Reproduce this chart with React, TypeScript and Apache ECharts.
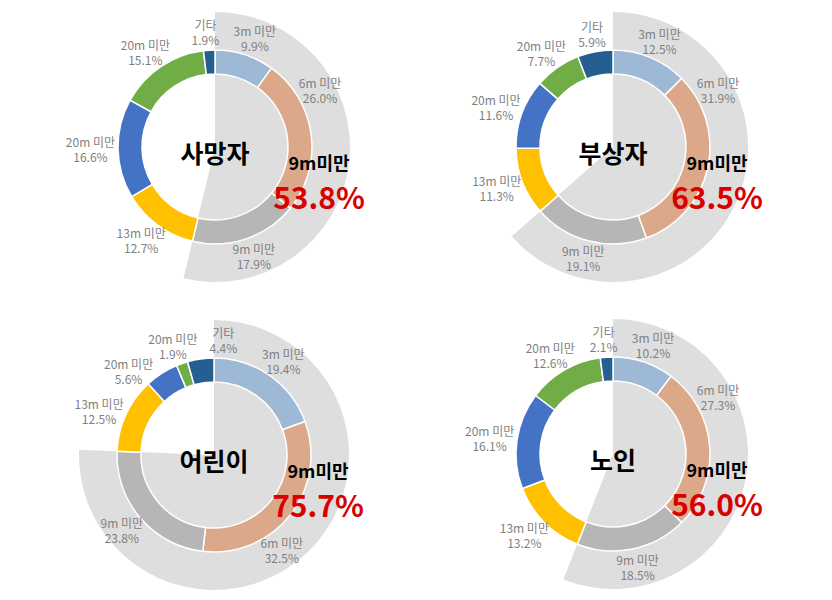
import React, { useEffect, useRef } from "react";
import * as echarts from "echarts";

const categories = ["3m 미만", "6m 미만", "9m 미만", "13m 미만", "20m 미만", "20m 미만", "기타"];
const groups = ["사망자", "부상자", "어린이", "노인"];
const deaths = [9.9, 26.0, 17.9, 12.7, 16.6, 15.1, 1.9];
const injured = [12.5, 31.9, 19.1, 11.3, 11.6, 7.7, 5.9];
const children = [19.4, 32.5, 23.8, 12.5, 5.6, 1.9, 4.4];
const elderly = [10.2, 27.3, 18.5, 13.2, 16.1, 12.6, 2.1];
const highlightLabel = "9m미만";
const highlightCount = 3; // first three categories are under 9m

const seriesValues = [deaths, injured, children, elderly];

const colors = ["#9DB9D5", "#DBA98A", "#B6B6B6", "#FFC000", "#4472C4", "#70AD47", "#255E91"];
const centers: [number, number][] = [
  [215, 147],
  [613, 147],
  [214, 455],
  [613, 454],
];
const OUTER_GREY = 135;
const RING_IN = 73;
const RING_OUT = 97;
const FONT = '"Noto Sans CJK KR", "Noto Sans", sans-serif';

function labelAngles(values: number[]): number[] {
  const total = values.reduce((a, b) => a + b, 0);
  let cum = 0;
  const a = values.map((v) => {
    const mid = ((cum + v / 2) / total) * 360;
    cum += v;
    return mid;
  });
  // keep labels out of the highlighted-text zone on the right
  const z0 = 60,
    z1 = 146;
  for (let i = 0; i < a.length; i++) {
    if (a[i] > z0 && a[i] < z1) a[i] = a[i] - z0 < z1 - a[i] ? z0 : z1;
  }
  const minSep = 24;
  for (let it = 0; it < 30; it++) {
    for (let i = 0; i < a.length; i++) {
      const j = (i + 1) % a.length;
      let diff = a[j] - a[i];
      if (j === 0) diff += 360;
      if (diff < minSep) {
        const d = (minSep - diff) / 2;
        a[i] -= d;
        a[j] += d;
      }
    }
  }
  return a;
}

export default function App() {
  const ref = useRef<HTMLDivElement>(null);
  useEffect(() => {
    document.body.style.margin = "0";
    const chart = echarts.init(ref.current!, null, { renderer: "svg" });
    const series: any[] = [];
    const graphic: any[] = [];
    seriesValues.forEach((vals, gi) => {
      const [cx, cy] = centers[gi];
      const under = vals.slice(0, highlightCount).reduce((a, b) => a + b, 0);
      const total = vals.reduce((a, b) => a + b, 0);
      series.push({
        type: "pie",
        silent: true,
        center: [cx, cy],
        radius: [0, OUTER_GREY],
        startAngle: 90,
        clockwise: true,
        z: 1,
        label: { show: false },
        labelLine: { show: false },
        emphasis: { disabled: true },
        data: [
          { name: "under", value: under, itemStyle: { color: "#DEDEDE" } },
          { name: "rest", value: Math.max(total - under, 0), itemStyle: { color: "rgba(0,0,0,0)" } },
        ],
      });
      const angles = labelAngles(vals);
      series.push({
        type: "pie",
        silent: true,
        center: [cx, cy],
        radius: [RING_IN, RING_OUT],
        startAngle: 90,
        clockwise: true,
        avoidLabelOverlap: false,
        z: 2,
        emphasis: { disabled: true },
        itemStyle: { borderColor: "#ffffff", borderWidth: 1.5 },
        label: {
          show: true,
          position: "outside",
          formatter: (p: any) => `${p.name}\n${Number(p.value).toFixed(1)}%`,
          color: "#7F7F7F",
          fontSize: 12,
          lineHeight: 15,
          fontFamily: FONT,
          align: "center",
        },
        labelLine: { show: false },
        labelLayout: (p: any) => {
          const ang = (angles[p.dataIndex] * Math.PI) / 180;
          const hw = (p.labelRect?.width || 44) / 2;
          const hh = (p.labelRect?.height || 30) / 2;
          const g = RING_OUT + 3;
          return {
            x: cx + (g + hw) * Math.sin(ang),
            y: cy - (g + hh) * Math.cos(ang),
            align: "center",
            verticalAlign: "middle",
          };
        },
        data: vals.map((v, i) => ({
          name: categories[i],
          value: v,
          itemStyle: { color: colors[i] },
        })),
      });
      graphic.push(
        {
          type: "text",
          z: 100,
          x: cx,
          y: cy + 5,
          style: {
            text: groups[gi],
            fontSize: 25,
            lineHeight: 25,
            fontWeight: "bold",
            fontFamily: FONT,
            fill: "#000",
            align: "center",
            verticalAlign: "middle",
            textAlign: "center",
            textVerticalAlign: "middle",
          },
        },
        {
          type: "text",
          z: 100,
          x: cx + 104,
          y: cy + 15,
          style: {
            text: highlightLabel,
            fontSize: 18,
            lineHeight: 18,
            fontWeight: "bold",
            fontFamily: FONT,
            fill: "#000",
            align: "center",
            verticalAlign: "middle",
            textAlign: "center",
            textVerticalAlign: "middle",
          },
        },
        {
          type: "text",
          z: 100,
          x: cx + 104,
          y: cy + 49,
          style: {
            text: `${under.toFixed(1)}%`,
            fontSize: 30,
            lineHeight: 30,
            fontWeight: "bold",
            fontFamily: FONT,
            fill: "#D80000",
            align: "center",
            verticalAlign: "middle",
            textAlign: "center",
            textVerticalAlign: "middle",
          },
        }
      );
    });
    chart.setOption({ animation: false, backgroundColor: "#ffffff", series, graphic });
    return () => chart.dispose();
  }, []);
  return <div ref={ref} style={{ width: 832, height: 600 }} />;
}
